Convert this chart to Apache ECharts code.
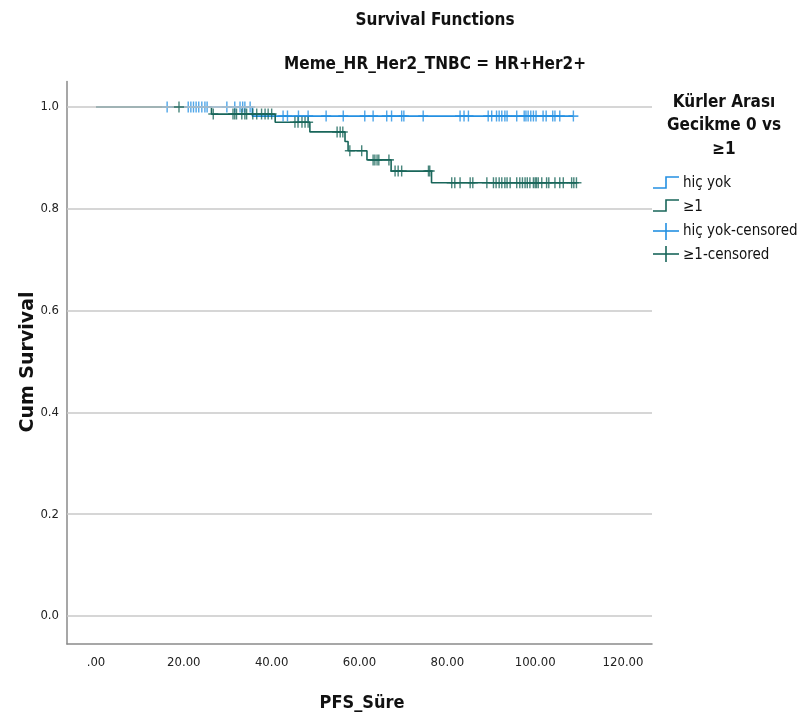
<!DOCTYPE html>
<html>
<head>
<meta charset="utf-8">
<script src="https://cdn.jsdelivr.net/npm/echarts@6/dist/echarts.min.js"></script>
<style>
  html, body { margin: 0; padding: 0; background: #ffffff; }
  #chart { width: 801px; height: 723px; }
</style>
</head>
<body>
<div id="chart"></div>
<script>
// Kaplan–Meier estimates: event times and the survival level after each step
const hicYokTimes = [0, 35.6, 108.7];
const hicYokSurv  = [1.0, 0.982, 0.982];
const geqOneTimes = [0, 26.3, 40.8, 48.7, 56.7, 57.4, 61.7, 67.2, 76.4, 109.4];
const geqOneSurv  = [1.0, 0.986, 0.970, 0.951, 0.932, 0.914, 0.896, 0.874, 0.851, 0.851];

// Censored follow-up times per group
const hicYokCensored = [16.2, 21.0, 21.6, 22.2, 22.8, 23.4, 24.1, 24.8, 25.3, 29.8, 31.6, 32.8, 33.4, 33.9, 35.1,
  42.6, 43.6, 46.1, 48.3, 52.4, 56.3, 61.2, 63.1, 66.2, 67.3, 69.6, 70.1, 74.5, 82.9, 83.8, 84.8,
  89.3, 90.1, 91.2, 91.8, 92.4, 93.1, 93.6, 95.8, 97.5, 97.9, 98.4, 99.0, 99.6, 100.2, 101.8, 102.5,
  104.0, 104.5, 105.6, 108.7];
const geqOneCensored = [18.9, 26.7, 31.2, 31.6, 32.0, 33.2, 33.9, 34.3, 35.7, 36.6, 37.7, 38.5, 39.2, 40.0,
  45.3, 46.0, 46.9, 47.6, 48.3, 54.9, 55.6, 56.2, 57.8, 60.5, 63.1, 63.5, 64.0, 64.4, 66.7,
  68.1, 68.8, 69.6, 75.7, 76.0, 81.0, 81.7, 82.9, 85.2, 85.8, 89.0, 90.5, 91.1, 91.8, 92.4, 93.1,
  93.6, 94.3, 95.8, 96.5, 97.1, 97.7, 98.2, 98.8, 99.6, 100.0, 100.3, 100.7, 101.5, 102.6, 103.1,
  104.5, 105.6, 106.4, 108.3, 108.8, 109.4];

const xTicks = [0, 20, 40, 60, 80, 100, 120];
const yTicks = [0, 0.2, 0.4, 0.6, 0.8, 1.0];

const BLUE = '#2490e2';
const TEAL = '#19665a';
const COND = "'Liberation Sans Narrow','DejaVu Sans Condensed','Roboto Condensed','Open Sans',sans-serif";

// survival level in effect at time t (right-continuous step function)
function survAt(times, surv, t) {
  let s = surv[0];
  for (let i = 0; i < times.length; i++) { if (times[i] <= t) s = surv[i]; }
  return s;
}
const pairs = (a, b) => a.map((v, i) => [v, b[i]]);
const censorPoints = (c, times, surv) => c.map(t => [t, survAt(times, surv, t)]);

// plus-shaped censor mark
const PLUS = 'path://M4.3,0h1.4v10h-1.4zM0,4.3h10v1.4h-10z';

const chart = echarts.init(document.getElementById('chart'));
chart.setOption({
  animation: false,
  backgroundColor: '#ffffff',
  title: [
    { text: 'Survival Functions', left: 430, top: 7, textAlign: 'center',
      textStyle: { fontFamily: COND, fontWeight: 'bold', fontSize: 17, color: '#111' } },
    { text: 'Meme_HR_Her2_TNBC = HR+Her2+', left: 430, top: 51, textAlign: 'center',
      textStyle: { fontFamily: COND, fontWeight: 'bold', fontSize: 17, color: '#111' } }
  ],
  grid: { left: 67, top: 81.5, width: 585, height: 562.5, containLabel: false },
  xAxis: {
    type: 'value', min: -6.6, max: 126.6,
    axisLine: { show: true, onZero: false, lineStyle: { color: '#8a8a8a', width: 1.5 } },
    axisTick: { show: false },
    splitLine: { show: false },
    axisLabel: {
      customValues: xTicks, margin: 12, color: '#222', fontFamily: COND, fontSize: 13,
      formatter: v => v === 0 ? '.00' : v.toFixed(2)
    }
  },
  yAxis: {
    type: 'value', min: -0.055, max: 1.05,
    axisLine: { show: true, onZero: false, lineStyle: { color: '#8a8a8a', width: 1.5 } },
    axisTick: { show: false },
    splitLine: { show: false },
    axisLabel: {
      customValues: yTicks, margin: 8, color: '#222', fontFamily: COND, fontSize: 13,
      formatter: v => v.toFixed(1)
    }
  },
  graphic: [
    { type: 'text', x: 28, y: 362, rotation: Math.PI / 2,
      style: { text: 'Cum Survival', fontFamily: "'DejaVu Sans',sans-serif", fontWeight: 'bold', fontSize: 19,
        fill: '#111', align: 'center', verticalAlign: 'middle' } },
    { type: 'text', x: 362, y: 703,
      style: { text: 'PFS_Süre', fontFamily: COND, fontWeight: 'bold', fontSize: 18,
        fill: '#111', align: 'center', verticalAlign: 'middle' } },
    // legend block
    { type: 'text', x: 724, y: 103, style: { text: 'Kürler Arası', fontFamily: COND, fontWeight: 'bold', fontSize: 17, fill: '#111', align: 'center', verticalAlign: 'middle' } },
    { type: 'text', x: 724, y: 126, style: { text: 'Gecikme 0 vs', fontFamily: COND, fontWeight: 'bold', fontSize: 17, fill: '#111', align: 'center', verticalAlign: 'middle' } },
    { type: 'text', x: 724, y: 150, style: { text: '≥1', fontFamily: COND, fontWeight: 'bold', fontSize: 17, fill: '#111', align: 'center', verticalAlign: 'middle' } },
    { type: 'polyline', shape: { points: [[653, 188], [666, 188], [666, 177], [679, 177]] }, style: { stroke: BLUE, lineWidth: 1.6, fill: null } },
    { type: 'text', x: 683, y: 183, style: { text: 'hiç yok', fontFamily: COND, fontSize: 15, fill: '#111', verticalAlign: 'middle' } },
    { type: 'polyline', shape: { points: [[653, 211], [666, 211], [666, 200], [679, 200]] }, style: { stroke: TEAL, lineWidth: 1.6, fill: null } },
    { type: 'text', x: 683, y: 207, style: { text: '≥1', fontFamily: COND, fontSize: 15, fill: '#111', verticalAlign: 'middle' } },
    { type: 'line', shape: { x1: 653, y1: 231, x2: 679, y2: 231 }, style: { stroke: BLUE, lineWidth: 1.6 } },
    { type: 'line', shape: { x1: 666, y1: 223, x2: 666, y2: 240 }, style: { stroke: BLUE, lineWidth: 1.6 } },
    { type: 'text', x: 683, y: 231, style: { text: 'hiç yok-censored', fontFamily: COND, fontSize: 15, fill: '#111', verticalAlign: 'middle' } },
    { type: 'line', shape: { x1: 653, y1: 254, x2: 679, y2: 254 }, style: { stroke: TEAL, lineWidth: 1.6 } },
    { type: 'line', shape: { x1: 666, y1: 246, x2: 666, y2: 262 }, style: { stroke: TEAL, lineWidth: 1.6 } },
    { type: 'text', x: 683, y: 255, style: { text: '≥1-censored', fontFamily: COND, fontSize: 15, fill: '#111', verticalAlign: 'middle' } }
  ],
  series: [
    {
      name: 'hiç yok', type: 'line', step: 'end', showSymbol: false, z: 2,
      data: pairs(hicYokTimes, hicYokSurv),
      lineStyle: { color: BLUE, width: 1.6 }, itemStyle: { color: BLUE },
      markLine: {
        silent: true, symbol: 'none', label: { show: false }, animation: false,
        lineStyle: { color: '#c9c9c9', width: 1.5, type: 'solid' },
        data: yTicks.map(v => ({ yAxis: v }))
      }
    },
    {
      name: '≥1', type: 'line', step: 'end', showSymbol: false, z: 3,
      data: pairs(geqOneTimes, geqOneSurv),
      lineStyle: { color: TEAL, width: 1.6 }, itemStyle: { color: TEAL }
    },
    {
      name: 'hiç yok-censored', type: 'scatter', symbol: PLUS, symbolSize: [10, 11], z: 4,
      data: censorPoints(hicYokCensored, hicYokTimes, hicYokSurv),
      itemStyle: { color: BLUE }
    },
    {
      name: '≥1-censored', type: 'scatter', symbol: PLUS, symbolSize: [10, 11], z: 5,
      data: censorPoints(geqOneCensored, geqOneTimes, geqOneSurv),
      itemStyle: { color: TEAL }
    }
  ]
});
</script>
</body>
</html>
